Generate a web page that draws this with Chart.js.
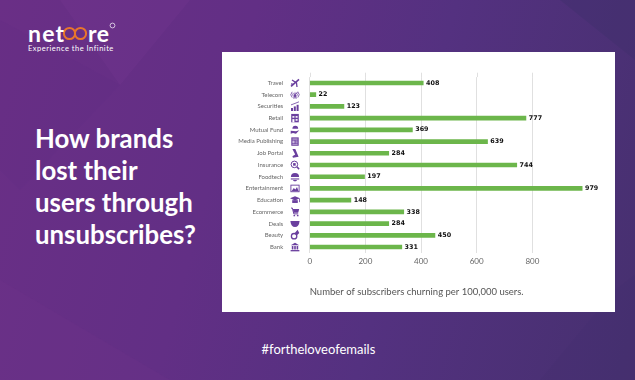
<!DOCTYPE html>
<html><head><meta charset="utf-8">
<script src="https://cdn.jsdelivr.net/npm/chart.js@4"></script>
<style>
html,body{margin:0;padding:0}
#s{position:relative;width:635px;height:380px;overflow:hidden;background:linear-gradient(105deg,#6a2f86 0%,#622f85 35%,#543180 62%,#46306f 100%)}
#p{position:absolute;left:222px;top:52px;width:393px;height:260px;background:#fff}
#s div{position:absolute;color:#fff;font-family:Lato,sans-serif}
canvas{position:absolute;left:0;top:0}
</style></head><body>
<div id="s">
<svg style="position:absolute;left:0;top:0" width="635" height="380">
<polygon points="60,0 190,0 120,85" fill="#7d3a94" opacity=".2"/>
<polygon points="0,20 120,85 20,190 0,170" fill="#5a2a80" opacity=".12"/>
<polygon points="0,280 0,380 170,380" fill="#7a3590" opacity=".15"/>
<polygon points="635,0 635,60 560,0" fill="#3f2f6c" opacity=".4"/>
<polygon points="615,290 635,275 635,380 540,380" fill="#3f2f6c" opacity=".2"/>
<circle cx="69.5" cy="33.5" r="5.6" fill="none" stroke="#e8762c" stroke-width="2"/>
<circle cx="80.5" cy="33.5" r="5.6" fill="none" stroke="#e8762c" stroke-width="2"/>
<circle cx="112.5" cy="25.5" r="2.4" fill="none" stroke="#fff" stroke-width=".7"/>
</svg>
<div id="p"><canvas id="c" width="393" height="260"></canvas></div>
<div style="left:28px;top:20px;font-size:23px;font-weight:700;letter-spacing:1.2px;line-height:26px">net</div>
<div style="left:88px;top:20px;font-size:23px;font-weight:700;letter-spacing:.6px;line-height:26px">re</div>
<div style="left:28px;top:44px;font-size:7.5px;font-weight:400;letter-spacing:.5px;line-height:10px">Experience the Infinite</div>
<div style="left:35px;top:122px;font-size:25.8px;font-weight:700;line-height:32px;white-space:nowrap">How brands<br>lost their<br>users through<br>unsubscribes?</div>
<div style="left:261.5px;top:341px;font-size:13px;font-weight:400;line-height:16px">#fortheloveofemails</div>
</div>
<script>
const categories=['Travel','Telecom','Securities','Retail','Mutual Fund','Media Publishing','Job Portal','Insurance','Foodtech','Entertainment','Education','Ecommerce','Deals','Beauty','Bank'];
const churn=[408,22,123,777,369,639,284,744,197,979,148,338,284,450,331];
const xTicks=[0,200,400,600,800];
const iconDraw=[
 c=>{c.lineWidth=1.6;c.beginPath();c.moveTo(-4,3.5);c.lineTo(4,-3.5);c.stroke();c.lineWidth=1.3;c.beginPath();c.moveTo(-3,-3);c.lineTo(1.5,0);c.lineTo(2,4);c.moveTo(-4,1);c.lineTo(-1.5,1.5);c.stroke();},
 c=>{c.lineWidth=.8;c.beginPath();c.arc(0,0,2.2,-.9,.9);c.moveTo(0,0);c.arc(0,0,4,-.8,.8);c.stroke();c.beginPath();c.arc(0,0,2.2,Math.PI-.9,Math.PI+.9);c.stroke();c.beginPath();c.arc(0,0,4,Math.PI-.8,Math.PI+.8);c.stroke();c.lineWidth=1.1;c.beginPath();c.moveTo(-1.2,4);c.lineTo(0,-.8);c.lineTo(1.2,4);c.stroke();},
 c=>{[[-4,1,2],[-1.2,-.6,3.6],[1.6,-2.2,5.2]].forEach(b=>c.fillRect(b[0],b[1]+.6,2,b[2]+1));c.lineWidth=.8;c.beginPath();c.moveTo(-4,-1.5);c.lineTo(0,-3);c.lineTo(4,-4.6);c.stroke();},
 c=>{c.fillRect(-3.8,-4.2,7.6,8.4);c.fillStyle='#fff';c.fillRect(-2.6,-2,2,1.6);c.fillRect(.6,-2,2,1.6);c.fillRect(-2.6,1,2,3.2);c.fillRect(.6,1,2,1.6);},
 c=>{c.beginPath();c.arc(.3,-1.2,2.9,Math.PI,0);c.fill();c.beginPath();c.moveTo(-4.3,.8);c.lineTo(1,1.3);c.lineTo(4.3,.3);c.lineTo(1,4);c.lineTo(-2,3.2);c.lineTo(-4.3,4);c.closePath();c.fill();},
 c=>{c.fillRect(-3.7,-4.2,7.4,8.4);c.fillStyle='#cdbbe0';c.fillRect(-2.6,-3,5.2,1);c.fillRect(-2.6,-1,2.2,2.8);c.fillRect(.4,-1,2.2,1);c.fillRect(.4,.8,2.2,1);c.fillRect(-2.6,2.6,5.2,.7);},
 c=>{c.beginPath();c.moveTo(-2.6,-4.4);c.lineTo(.3,-4.4);c.lineTo(3.6,3.4);c.lineTo(-2,4.4);c.lineTo(-2.6,3);c.lineTo(.2,1.3);c.closePath();c.fill();},
 c=>{c.lineWidth=1;c.beginPath();c.arc(-.6,-.6,3.3,0,7);c.stroke();c.lineWidth=1.5;c.beginPath();c.moveTo(1.8,1.8);c.lineTo(4.1,4.1);c.stroke();c.fillRect(-1.9,-1.9,2.6,2.6);},
 c=>{c.beginPath();c.arc(0,.4,4.1,Math.PI,0);c.fill();c.fillRect(-4.2,1.7,8.4,1.1);c.beginPath();c.moveTo(-2.2,3.4);c.lineTo(2.2,3.4);c.lineTo(1,4.6);c.lineTo(-1,4.6);c.fill();},
 c=>{c.lineWidth=.9;c.strokeRect(-4.1,-3.3,8.2,6.6);c.beginPath();c.moveTo(-3.5,2.8);c.lineTo(-1.2,-.5);c.lineTo(.4,1);c.lineTo(2,-1.5);c.lineTo(3.6,2.8);c.closePath();c.fill();},
 c=>{c.beginPath();c.moveTo(-5,-1.8);c.lineTo(0,-3.8);c.lineTo(5,-1.8);c.lineTo(0,.4);c.closePath();c.fill();c.fillRect(-2.8,0,5.6,2.8);c.fillRect(4,-1.6,.8,3.6);},
 c=>{c.lineWidth=1;c.beginPath();c.moveTo(-4,-3.8);c.lineTo(-2.6,-3.8);c.lineTo(-1.2,2);c.lineTo(3.2,2);c.stroke();c.beginPath();c.moveTo(-2.2,-2.8);c.lineTo(4.2,-2.8);c.lineTo(3.2,.8);c.lineTo(-1.4,.8);c.fill();c.fillRect(-1.5,3,1.6,1.4);c.fillRect(1.9,3,1.6,1.4);},
 c=>{c.beginPath();c.moveTo(-4.6,-2.6);c.lineTo(4.6,-2.6);c.quadraticCurveTo(4,3.4,0,3.4);c.quadraticCurveTo(-4,3.4,-4.6,-2.6);c.fill();},
 c=>{c.lineWidth=1.3;c.beginPath();c.arc(-.9,.9,2.7,0,7);c.stroke();c.lineWidth=1.6;c.beginPath();c.moveTo(.2,-1.6);c.lineTo(2.4,-4.2);c.lineTo(3.3,-2.4);c.lineTo(1.2,-.4);c.stroke();},
 c=>{c.beginPath();c.moveTo(-4.2,-1.8);c.lineTo(0,-4.2);c.lineTo(4.2,-1.8);c.closePath();c.fill();c.fillRect(-3.2,-1,1.6,3.4);c.fillRect(-.8,-1,1.6,3.4);c.fillRect(1.6,-1,1.6,3.4);c.fillRect(-4.4,3,8.8,1.3);}
];
const extras={id:'extras',afterDatasetsDraw(ch){const c=ch.ctx,m=ch.getDatasetMeta(0),s=ch.scales.x;c.save();
 c.font='bold 6.4px "DejaVu Sans"';c.fillStyle='#111';c.textBaseline='middle';
 m.data.forEach((b,i)=>c.fillText(churn[i],b.x+2.8,b.y));
 c.strokeStyle='#e0e0e0';c.lineWidth=1;
 xTicks.forEach(t=>{const x=Math.round(s.getPixelForValue(t))+.5;c.beginPath();c.moveTo(x,ch.chartArea.top-4.4);c.lineTo(x,ch.chartArea.top);c.stroke();});
 categories.forEach((n,i)=>{c.save();c.translate(ch.chartArea.left-14.7,ch.scales.y.getPixelForValue(i));c.fillStyle=c.strokeStyle='#6a3f9e';iconDraw[i](c);c.restore();});
 c.restore();}};
new Chart(document.getElementById('c'),{type:'bar',plugins:[extras],
 data:{labels:categories,datasets:[{data:churn,backgroundColor:'#6cb64b',barThickness:4,borderWidth:0}]},
 options:{indexAxis:'y',responsive:false,animation:false,
  layout:{padding:{left:0,right:27,top:25.1,bottom:0}},
  plugins:{legend:{display:false},tooltip:{enabled:false}},
  scales:{
   x:{min:0,max:1000,position:'bottom',afterBuildTicks(a){a.ticks=xTicks.map(v=>({value:v}));},afterFit(a){a.height=59.1;},
      grid:{color:'#e0e0e0',drawTicks:false},border:{display:false},
      ticks:{color:'#666',padding:4,font:{family:'Lato',size:8}},
      title:{display:true,align:'start',text:'Number of subscribers churning per 100,000 users.',color:'#555',padding:{top:15,bottom:14},font:{family:'Lato',size:9.5}}},
   y:{afterFit(a){a.width=87.7;},grid:{display:false},border:{display:false},
      ticks:{color:'#666',padding:18.5,autoSkip:false,font:{family:'Lato',size:6}}}
  }}});
</script></body></html>
